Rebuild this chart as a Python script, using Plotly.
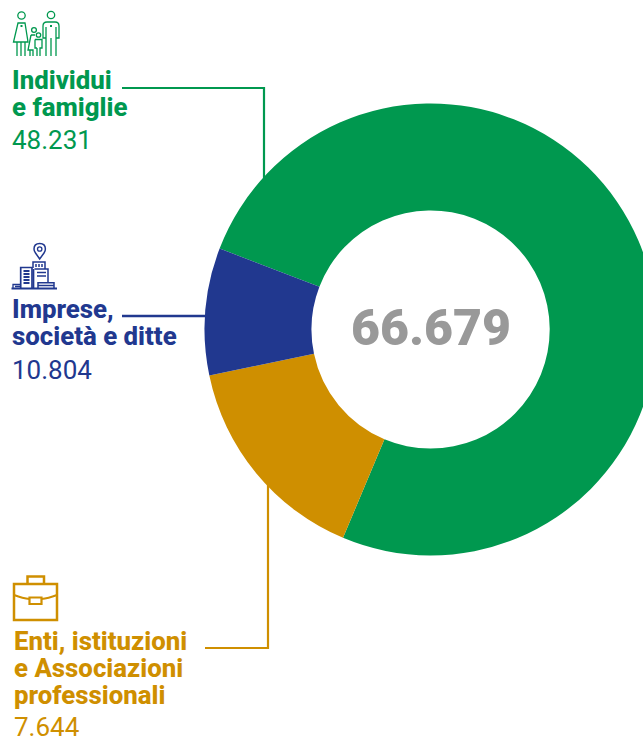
import plotly.graph_objects as go

# Labelled figures printed on the chart
categories = ["Individui<br>e famiglie", "Imprese,<br>società e ditte", "Enti, istituzioni<br>e Associazioni<br>professionali"]
printed_values = ["48.231", "10.804", "7.644"]
total_label = "66.679"

# Slice shares as drawn in the picture (clockwise from the top of the blue/green edge)
slice_names = ["Individui e famiglie", "Enti, istituzioni e Associazioni professionali", "Imprese, società e ditte"]
slice_shares = [75.5, 15.4, 9.1]
slice_colors = ["#00984f", "#cf8f00", "#21388f"]

GREEN, GOLD, BLUE = slice_colors
W, H = 660, 742
cx, cy, R = 430.6, 329.5, 226.0

fig = go.Figure()
fig.add_trace(go.Pie(
    labels=slice_names, values=slice_shares, sort=False, direction="clockwise",
    rotation=-69, hole=0.527, textinfo="none", showlegend=False, hoverinfo="label",
    marker=dict(colors=slice_colors, line=dict(width=0)),
    domain=dict(x=[(cx - R) / W, (cx + R) / W], y=[1 - (cy + R) / H, 1 - (cy - R) / H]),
))


def text(x, y, s, color, size, weight=400):
    fig.add_annotation(x=x, y=y, xref="x", yref="y", text=s, showarrow=False,
                       xanchor="left", yanchor="middle", align="left",
                       font=dict(family="Roboto", size=size, color=color, weight=weight), borderpad=0)


def path(d, color, width=1.3, fill=None):
    fig.add_shape(type="path", path=d, xref="x", yref="y", layer="below",
                  line=dict(color=color, width=width), fillcolor=fill or "rgba(0,0,0,0)")


def circ(x, y, r, color, width=1.3):
    fig.add_shape(type="circle", x0=x - r, x1=x + r, y0=y - r, y1=y + r, xref="x", yref="y", layer="below",
                  line=dict(color=color, width=width))


# Category labels
line_h = 27
for label, first_y, x, color in zip(categories, [80, 309, 641], [10.5, 10.5, 13], [GREEN, BLUE, GOLD]):
    for i, part in enumerate(label.split("<br>")):
        text(x, first_y + i * line_h, part, color, 25.8, weight=800)
for val, y, color, x in zip(printed_values, [140, 370, 727], [GREEN, BLUE, GOLD], [10.5, 10.5, 13]):
    text(x, y, val, color, 26)

fig.add_annotation(x=431, y=328, xref="x", yref="y", text=total_label, showarrow=False,
                   font=dict(family="Roboto", size=50, color="#999999", weight=900),
                   xanchor="center", yanchor="middle")

# Leader lines
path("M122,88 L264,88 L264,190", GREEN, 2.2)
path("M122,316 L215,316", BLUE, 2.4)
path("M205,648 L268,648 L268,470", GOLD, 2.2)

# Family icon
g = GREEN
circ(21.5, 15.5, 3.7, g)
circ(51, 15, 3.7, g)
circ(34, 30, 2.4, g)
circ(38.5, 35, 2.2, g)
path("M18,23 H25 L28,42 H13.5 Z", g)
path("M17,42 V56 M21,42 V56 M25,42 V56", g)
path("M46,56 V38 H43 V26 Q43,22 47,22 H55 Q59,22 59,26 V38 H56 V56 M46,38 V27 M56,38 V27 M51,38 V56", g)
path("M31,35 H35 M31,35 L28,50 H33 V56 M30,50 V56", g)
path("M35,39.5 H42 V48 H40 V56 M37,48 V56 M35,39.5 V48 H37", g)
fig.add_shape(type="rect", x0=20.5, x1=22.5, y0=25, y1=27, xref="x", yref="y", layer="below", line=dict(width=0), fillcolor=g)
fig.add_shape(type="rect", x0=50, x1=52, y0=25, y1=27, xref="x", yref="y", layer="below", line=dict(width=0), fillcolor=g)

# Building icon
b = BLUE
path("M39.7,259 L35.5,253 Q34,251 34,249 Q34,243.5 39.7,243.5 Q45.4,243.5 45.4,249 Q45.4,251 44,253 Z", b, 1.5)
circ(39.7, 249, 2.2, b)
path("M11.5,288.5 H57", b, 1.8)
path("M20.7,288 V267.5 H32 V288", b, 1.7)
path("M23.5,271 H29.5 M23.5,274 H29.5 M23.5,277 H29.5 M23.5,280 H29.5 M23.5,283 H29.5", b, 1.8)
path("M33,268 V262 H45 V269 H48 V282 M34.5,269 H45 M36,264 V267 M39,264 V267 M42,264 V267 M37,272.5 H46 M37,276 H46", b, 1.5)
path("M33.5,269 V288", b, 1.7)
path("M13,288 V284.5 H21 M15,286.5 H20", b)
path("M38,288 V282.7 H54 V288 M38,285.5 H54", b, 1.5)

# Briefcase icon
o = GOLD
path("M14,584 H57 V620 H14 Z", o, 2.5)
path("M27.5,584 V576.5 H44 V584", o, 2.5)
path("M14,595 Q23,598.5 29.5,599 M41.5,599 Q48,598.5 57,595", o, 2)
path("M29.5,597.5 H41.5 V604 H29.5 Z", o, 2.2)

fig.update_layout(
    width=W, height=H, margin=dict(l=0, r=0, t=0, b=0), paper_bgcolor="white", plot_bgcolor="white",
    xaxis=dict(range=[0, W], visible=False, domain=[0, 1], fixedrange=True),
    yaxis=dict(range=[H, 0], visible=False, domain=[0, 1], fixedrange=True),
)
fig.write_html("out.html", config=dict(displayModeBar=False),
               post_script="document.documentElement.style.overflow='hidden';document.body.style.overflow='hidden';document.body.style.margin='0';")
